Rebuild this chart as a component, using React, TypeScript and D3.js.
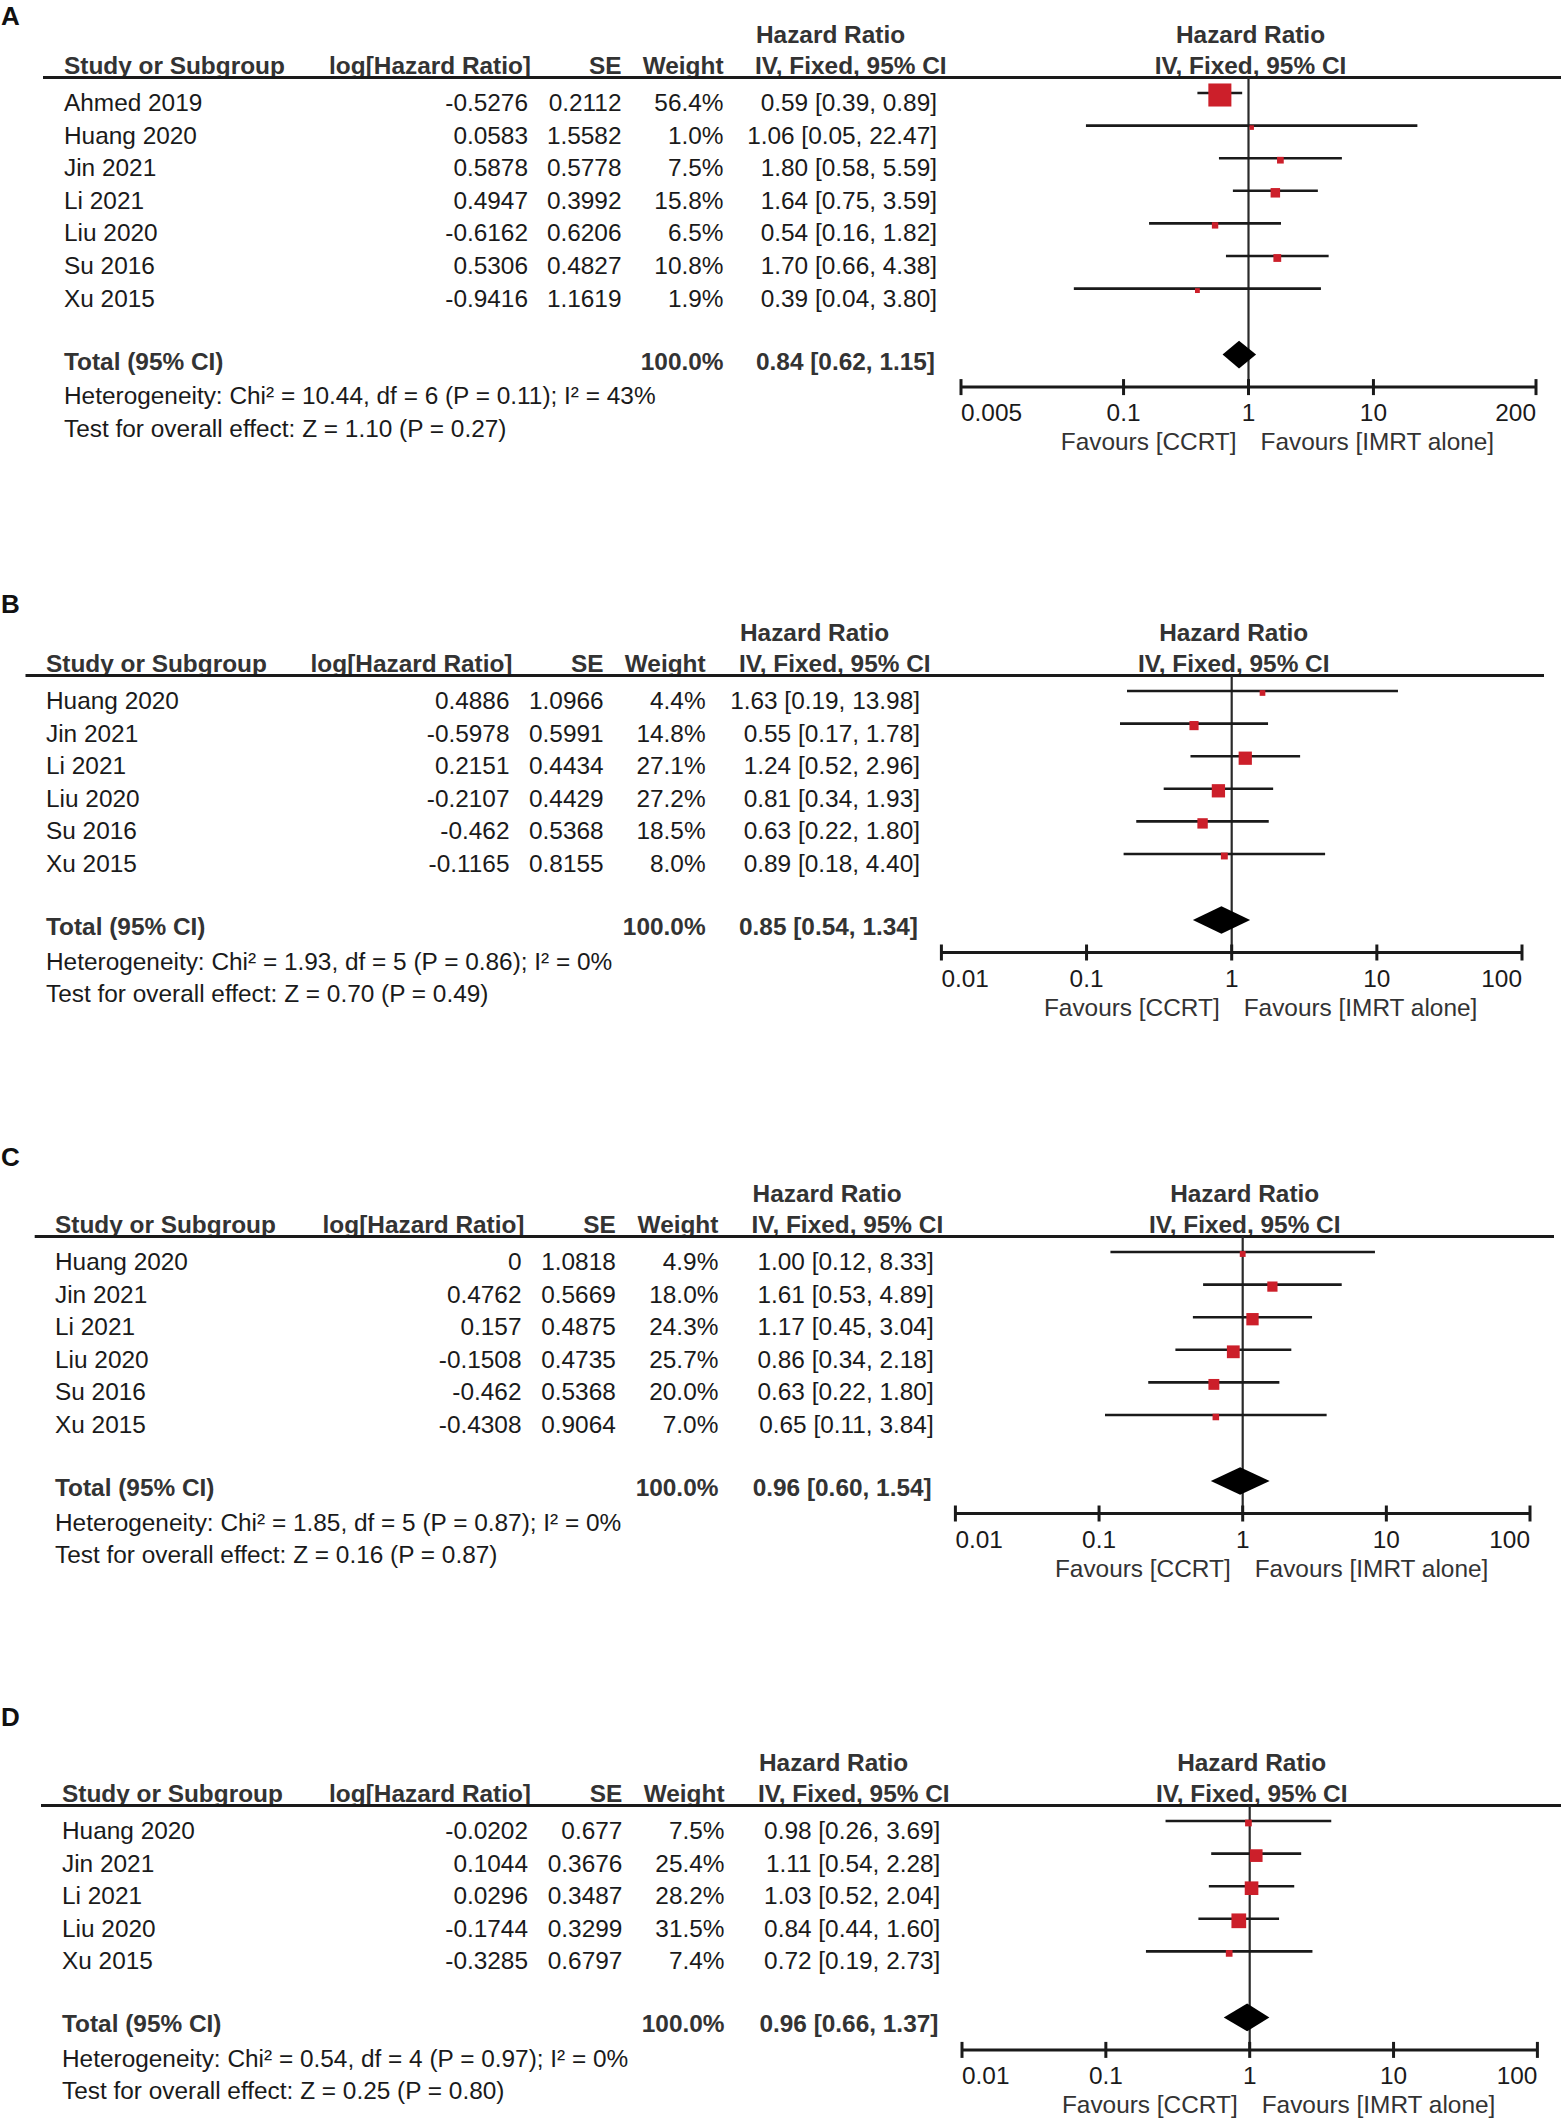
import * as d3 from "d3";

// ---- data ----
const studiesA = ["Ahmed 2019", "Huang 2020", "Jin 2021", "Li 2021", "Liu 2020", "Su 2016", "Xu 2015"];
const logHrA = [-0.5276, 0.0583, 0.5878, 0.4947, -0.6162, 0.5306, -0.9416];
const seA = [0.2112, 1.5582, 0.5778, 0.3992, 0.6206, 0.4827, 1.1619];
const weightA = [56.4, 1.0, 7.5, 15.8, 6.5, 10.8, 1.9];
const hrA = [0.59, 1.06, 1.8, 1.64, 0.54, 1.7, 0.39];
const lowA = [0.39, 0.05, 0.58, 0.75, 0.16, 0.66, 0.04];
const highA = [0.89, 22.47, 5.59, 3.59, 1.82, 4.38, 3.8];
const totalA = [0.84, 0.62, 1.15];
const hetA = "Heterogeneity: Chi² = 10.44, df = 6 (P = 0.11); I² = 43%";
const testA = "Test for overall effect: Z = 1.10 (P = 0.27)";

const studiesB = ["Huang 2020", "Jin 2021", "Li 2021", "Liu 2020", "Su 2016", "Xu 2015"];
const logHrB = [0.4886, -0.5978, 0.2151, -0.2107, -0.462, -0.1165];
const seB = [1.0966, 0.5991, 0.4434, 0.4429, 0.5368, 0.8155];
const weightB = [4.4, 14.8, 27.1, 27.2, 18.5, 8.0];
const hrB = [1.63, 0.55, 1.24, 0.81, 0.63, 0.89];
const lowB = [0.19, 0.17, 0.52, 0.34, 0.22, 0.18];
const highB = [13.98, 1.78, 2.96, 1.93, 1.8, 4.4];
const totalB = [0.85, 0.54, 1.34];
const hetB = "Heterogeneity: Chi² = 1.93, df = 5 (P = 0.86); I² = 0%";
const testB = "Test for overall effect: Z = 0.70 (P = 0.49)";

const studiesC = ["Huang 2020", "Jin 2021", "Li 2021", "Liu 2020", "Su 2016", "Xu 2015"];
const logHrC = [0, 0.4762, 0.157, -0.1508, -0.462, -0.4308];
const seC = [1.0818, 0.5669, 0.4875, 0.4735, 0.5368, 0.9064];
const weightC = [4.9, 18.0, 24.3, 25.7, 20.0, 7.0];
const hrC = [1.0, 1.61, 1.17, 0.86, 0.63, 0.65];
const lowC = [0.12, 0.53, 0.45, 0.34, 0.22, 0.11];
const highC = [8.33, 4.89, 3.04, 2.18, 1.8, 3.84];
const totalC = [0.96, 0.6, 1.54];
const hetC = "Heterogeneity: Chi² = 1.85, df = 5 (P = 0.87); I² = 0%";
const testC = "Test for overall effect: Z = 0.16 (P = 0.87)";

const studiesD = ["Huang 2020", "Jin 2021", "Li 2021", "Liu 2020", "Xu 2015"];
const logHrD = [-0.0202, 0.1044, 0.0296, -0.1744, -0.3285];
const seD = [0.677, 0.3676, 0.3487, 0.3299, 0.6797];
const weightD = [7.5, 25.4, 28.2, 31.5, 7.4];
const hrD = [0.98, 1.11, 1.03, 0.84, 0.72];
const lowD = [0.26, 0.54, 0.52, 0.44, 0.19];
const highD = [3.69, 2.28, 2.04, 1.6, 2.73];
const totalD = [0.96, 0.66, 1.37];
const hetD = "Heterogeneity: Chi² = 0.54, df = 4 (P = 0.97); I² = 0%";
const testD = "Test for overall effect: Z = 0.25 (P = 0.80)";

const ticksA = [0.005, 0.1, 1, 10, 200];
const ticksBCD = [0.01, 0.1, 1, 10, 100];

const W = 1561;
const H = 2118;
const FONT = "'Liberation Sans', Arial, Helvetica, sans-serif";
const RED = "#cc1f2a";
const INK = "#1a1a1a";
const HEAD = "#333";

// where each panel sits on the page
const layouts = [
  { letter: "A", letterY: 25, lineY: 77.5, lineX0: 43, lineX1: 1561, studyX: 64, logX: 528, seX: 621.5, wX: 723.5, ciHdrX: 756, ciX: 937, plotX0: 961, plotX1: 1536 },
  { letter: "B", letterY: 613, lineY: 675.5, lineX0: 25.5, lineX1: 1544, studyX: 46, logX: 509.5, seX: 603.6, wX: 705.6, ciHdrX: 740, ciX: 920, plotX0: 941.4, plotX1: 1522 },
  { letter: "C", letterY: 1166, lineY: 1236.5, lineX0: 34.7, lineX1: 1554, studyX: 55, logX: 521.5, seX: 615.8, wX: 718.4, ciHdrX: 752.6, ciX: 933.7, plotX0: 955.4, plotX1: 1530 },
  { letter: "D", letterY: 1726, lineY: 1805.5, lineX0: 41, lineX1: 1561, studyX: 62, logX: 528, seX: 622.4, wX: 724.5, ciHdrX: 759, ciX: 940.4, plotX0: 962, plotX1: 1537.4 },
];

const panels = [
  { studies: studiesA, logHr: logHrA, se: seA, weight: weightA, hr: hrA, low: lowA, high: highA, total: totalA, het: hetA, test: testA, ticks: ticksA },
  { studies: studiesB, logHr: logHrB, se: seB, weight: weightB, hr: hrB, low: lowB, high: highB, total: totalB, het: hetB, test: testB, ticks: ticksBCD },
  { studies: studiesC, logHr: logHrC, se: seC, weight: weightC, hr: hrC, low: lowC, high: highC, total: totalC, het: hetC, test: testC, ticks: ticksBCD },
  { studies: studiesD, logHr: logHrD, se: seD, weight: weightD, hr: hrD, low: lowD, high: highD, total: totalD, het: hetD, test: testD, ticks: ticksBCD },
];

const ROW = 32.6;
const size = d3.scaleLinear().domain([0, 100]).range([4.2, 37.6]);
const ci = (h: number, l: number, u: number) => `${h.toFixed(2)} [${l.toFixed(2)}, ${u.toFixed(2)}]`;

function Forest({ p, L }: { p: (typeof panels)[number]; L: (typeof layouts)[number] }) {
  const x = d3.scaleLog().domain([p.ticks[0], p.ticks[p.ticks.length - 1]]).range([L.plotX0, L.plotX1]);
  const x1 = x(1);
  const rowY = (i: number) => L.lineY + 33.5 + i * ROW;
  const totalY = rowY(p.studies.length - 1) + 63;
  const axisY = totalY + 17.5;
  const hdr2 = L.lineY - 3.5;
  const hdr1 = hdr2 - 31.5;
  const [th, tl, tu] = p.total;
  const dy = totalY - 15;
  const dh = 13.8;

  return (
    <g fontFamily={FONT} fontSize={24.4}>
      <text x={1} y={L.letterY} fontSize={26} fontWeight="bold" fill="#111">{L.letter}</text>

      {/* headers */}
      <g fontWeight="bold" fill={HEAD}>
        <text x={L.ciHdrX} y={hdr1}>Hazard Ratio</text>
        <text x={x1 + 2} y={hdr1} textAnchor="middle">Hazard Ratio</text>
        <text x={L.studyX} y={hdr2}>Study or Subgroup</text>
        <text x={L.logX + 3} y={hdr2} textAnchor="end">log[Hazard Ratio]</text>
        <text x={L.seX} y={hdr2} textAnchor="end">SE</text>
        <text x={L.wX} y={hdr2} textAnchor="end">Weight</text>
        <text x={L.ciHdrX - 1} y={hdr2}>IV, Fixed, 95% CI</text>
        <text x={x1 + 2} y={hdr2} textAnchor="middle">IV, Fixed, 95% CI</text>
      </g>
      <line x1={L.lineX0} x2={L.lineX1} y1={L.lineY} y2={L.lineY} stroke={INK} strokeWidth={3} />

      {/* null line */}
      <line x1={x1} x2={x1} y1={L.lineY} y2={axisY} stroke="#2a2a2a" strokeWidth={2.2} />

      {/* study rows */}
      {p.studies.map((s, i) => {
        const y = rowY(i);
        const cy = y - 18;
        const sz = size(p.weight[i]);
        return (
          <g key={s}>
            <text x={L.studyX} y={y} fill={INK}>{s}</text>
            <text x={L.logX} y={y} textAnchor="end" fill={INK}>{String(p.logHr[i])}</text>
            <text x={L.seX} y={y} textAnchor="end" fill={INK}>{String(p.se[i])}</text>
            <text x={L.wX} y={y} textAnchor="end" fill={INK}>{p.weight[i].toFixed(1)}%</text>
            <text x={L.ciX} y={y} textAnchor="end" fill={INK}>{ci(p.hr[i], p.low[i], p.high[i])}</text>
            <line x1={x(p.low[i])} x2={x(p.high[i])} y1={cy} y2={cy} stroke={INK} strokeWidth={2.6} />
            <rect x={x(p.hr[i]) - sz / 2} y={cy + 2 - sz / 2} width={sz} height={sz} fill={RED} />
          </g>
        );
      })}

      {/* total */}
      <g fontWeight="bold" fill={HEAD}>
        <text x={L.studyX} y={totalY}>Total (95% CI)</text>
        <text x={L.wX} y={totalY} textAnchor="end">100.0%</text>
        <text x={L.ciX - 2} y={totalY} textAnchor="end">{ci(th, tl, tu)}</text>
      </g>
      <polygon
        points={[[x(tl), dy], [x(th), dy - dh], [x(tu), dy], [x(th), dy + dh]].map((q) => q.join(",")).join(" ")}
        fill="#000"
      />
      <text x={L.studyX} y={totalY + 34.5} fill={INK}>{p.het}</text>
      <text x={L.studyX} y={totalY + 67} fill={INK}>{p.test}</text>

      {/* axis */}
      <line x1={L.plotX0} x2={L.plotX1} y1={axisY} y2={axisY} stroke={INK} strokeWidth={3} />
      {p.ticks.map((t, k) => (
        <g key={t}>
          <line x1={x(t)} x2={x(t)} y1={axisY - 8} y2={axisY + 8} stroke={INK} strokeWidth={3} />
          <text
            x={x(t)}
            y={axisY + 34}
            fill={INK}
            textAnchor={k === 0 ? "start" : k === p.ticks.length - 1 ? "end" : "middle"}
          >
            {String(t)}
          </text>
        </g>
      ))}
      <text x={x1 - 12} y={axisY + 63} textAnchor="end" fill={HEAD}>Favours [CCRT]</text>
      <text x={x1 + 12} y={axisY + 63} fill={HEAD}>Favours [IMRT alone]</text>
    </g>
  );
}

export default function App() {
  return (
    <svg
      width={W}
      height={H}
      viewBox={`0 0 ${W} ${H}`}
      style={{ position: "absolute", left: 0, top: 0, background: "#fff" }}
    >
      <rect width={W} height={H} fill="#fff" />
      {panels.map((p, i) => (
        <Forest key={i} p={p} L={layouts[i]} />
      ))}
    </svg>
  );
}
